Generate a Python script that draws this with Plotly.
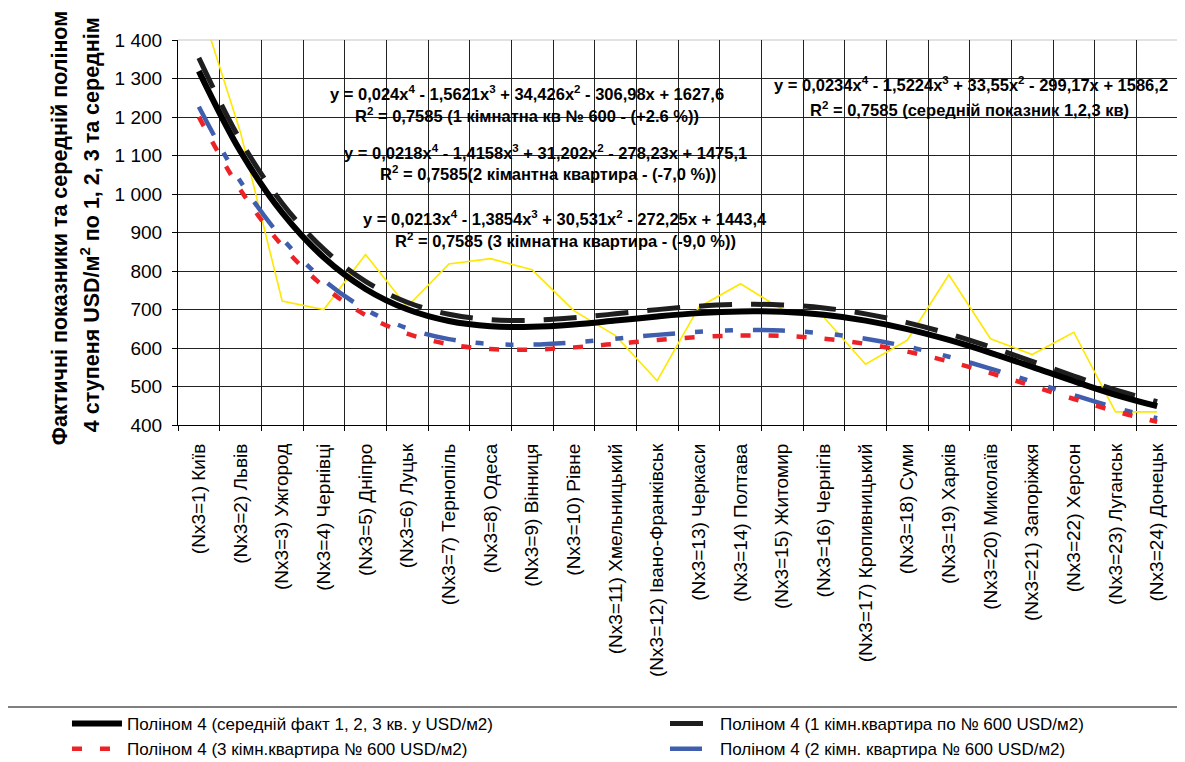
import plotly.graph_objects as go

categories = [
    "(Nx3=1) Київ", "(Nx3=2) Львів", "(Nx3=3) Ужгород", "(Nx3=4) Чернівці",
    "(Nx3=5) Дніпро", "(Nx3=6) Луцьк", "(Nx3=7) Тернопіль", "(Nx3=8) Одеса",
    "(Nx3=9) Вінниця", "(Nx3=10) Рівне", "(Nx3=11) Хмельницький",
    "(Nx3=12) Івано-Франківськ", "(Nx3=13) Черкаси", "(Nx3=14) Полтава",
    "(Nx3=15) Житомир", "(Nx3=16) Чернігів", "(Nx3=17) Кропивницький",
    "(Nx3=18) Суми", "(Nx3=19) Харків", "(Nx3=20) Миколаїв",
    "(Nx3=21) Запоріжжя", "(Nx3=22) Херсон", "(Nx3=23) Луганськ",
    "(Nx3=24) Донецьк",
]

actual_avg = [1500, 1160, 722, 700, 843, 707, 818, 832, 803, 697, 632, 515,
              706, 767, 700, 680, 558, 620, 790, 624, 583, 641, 434, 434]

# trend-line values at each category
trend_avg = [1319.1, 1110.3, 951.4, 834.9, 753.4, 700.5, 670.0, 656.4, 654.9,
             661.1, 671.2, 681.9, 690.6, 695.1, 693.9, 686.1, 671.1, 649.1,
             620.9, 587.6, 551.1, 513.7, 478.5, 448.8]
trend_1room = [1353.5, 1139.3, 976.2, 856.7, 773.1, 718.8, 687.5, 673.5, 672.0,
               678.4, 688.7, 699.7, 708.6, 713.2, 712.0, 704.0, 688.6, 666.0,
               637.1, 602.9, 565.5, 527.1, 491.0, 460.5]
trend_2room = [1226.7, 1032.5, 884.8, 776.4, 700.6, 651.4, 623.1, 610.4, 609.0,
               614.8, 624.2, 634.1, 642.2, 646.4, 645.3, 638.0, 624.1, 603.6,
               577.4, 546.4, 512.5, 477.7, 445.0, 417.4]
trend_3room = [1200.4, 1010.4, 865.8, 759.7, 685.6, 637.4, 609.7, 597.3, 595.9,
               601.6, 610.8, 620.5, 628.4, 632.5, 631.4, 624.3, 610.7, 590.7,
               565.0, 534.7, 501.5, 467.5, 435.4, 408.4]

name_avg = "Поліном 4 (середній факт 1, 2, 3 кв. у USD/м2)"
name_1 = "Поліном 4 (1 кімн.квартира по № 600 USD/м2)"
name_2 = "Поліном 4 (2 кімн. квартира № 600 USD/м2)"
name_3 = "Поліном 4 (3 кімн.квартира № 600 USD/м2)"

FONT = "Liberation Sans, Arial, sans-serif"

fig = go.Figure()
fig.add_trace(go.Scatter(x=categories, y=actual_avg, mode="lines",
                         line=dict(color="#FFE800", width=1.6),
                         showlegend=False, hoverinfo="skip"))
fig.add_trace(go.Scatter(x=categories, y=trend_2room, mode="lines", name=name_2,
                         line=dict(color="#3F5FAE", width=4.5, shape="spline",
                                   dash="32px,20px,8px,22px,8px,20px"),
                         legend="legend2", legendrank=2))
fig.add_trace(go.Scatter(x=categories, y=trend_3room, mode="lines", name=name_3,
                         line=dict(color="#EC2227", width=4.5, shape="spline",
                                   dash="10px,18px"),
                         legend="legend", legendrank=2))
fig.add_trace(go.Scatter(x=categories, y=trend_1room, mode="lines", name=name_1,
                         line=dict(color="#1e1e1e", width=5, shape="spline",
                                   dash="33px,19px"),
                         legend="legend2", legendrank=1))
fig.add_trace(go.Scatter(x=categories, y=trend_avg, mode="lines", name=name_avg,
                         line=dict(color="black", width=6, shape="spline"),
                         legend="legend", legendrank=1))

eq_font = dict(family=FONT, size=16.5, color="black")
annots = [
    (7.875, 1262, "<b>y = 0,024x<sup>4</sup> - 1,5621x<sup>3</sup> + 34,426x<sup>2</sup> - 306,98x + 1627,6</b>"),
    (7.875, 1205, "<b>R<sup>2</sup> = 0,7585 (1 кімнатна кв № 600 - (+2.6 %))</b>"),
    (8.33, 1109, "<b>y = 0,0218x<sup>4</sup> - 1,4158x<sup>3</sup> + 31,202x<sup>2</sup> - 278,23x + 1475,1</b>"),
    (8.38, 1055, "<b>R<sup>2</sup> = 0,7585(2 кімантна квартира - (-7,0 %))</b>"),
    (8.79, 938, "<b>y = 0,0213x<sup>4</sup> - 1,3854x<sup>3</sup> + 30,531x<sup>2</sup> - 272,25x + 1443,4</b>"),
    (8.79, 880, "<b>R<sup>2</sup> = 0,7585 (3 кімнатна квартира - (-9,0 %))</b>"),
    (18.53, 1285, "<b>y = 0,0234x<sup>4</sup> - 1,5224x<sup>3</sup> + 33,55x<sup>2</sup> - 299,17x + 1586,2</b>"),
    (18.5, 1220, "<b>R<sup>2</sup> = 0,7585 (середній показник 1,2,3 кв)</b>"),
]
for x, y, t in annots:
    fig.add_annotation(x=x, y=y, xref="x", yref="y", text=t, showarrow=False,
                       font=eq_font, xanchor="center", yanchor="middle")

title_font = dict(family=FONT, size=21.5, color="black")
fig.add_annotation(x=-0.118, y=0.511, xref="paper", yref="paper",
                   text="<b>Фактичні показники та середній поліном</b>",
                   textangle=-90, showarrow=False, font=title_font,
                   xanchor="center", yanchor="middle")
fig.add_annotation(x=-0.088, y=0.519, xref="paper", yref="paper",
                   text="<b>4 ступеня USD/м<sup>2</sup> по 1, 2, 3 та середнім</b>",
                   textangle=-90, showarrow=False, font=title_font,
                   xanchor="center", yanchor="middle")

# light top border of plot area
fig.add_shape(type="line", xref="paper", yref="paper", x0=0, x1=1, y0=1, y1=1,
              line=dict(color="#d9d9d9", width=1.5), layer="between")
# legend frame
fig.add_shape(type="rect", xref="paper", yref="paper", x0=-0.18, x1=1.03,
              y0=-0.7325, y1=-0.95, line=dict(color="black", width=1))

# the page body adds an 8px offset; figure is sized so the plot area lands
# at the same place as in the reference
fig.update_layout(
    width=1177, height=754,
    margin=dict(l=170, r=7, t=32, b=337, autoexpand=False),
    paper_bgcolor="white", plot_bgcolor="white",
    font=dict(family=FONT, size=17, color="black"),
    separators=", ",
    legend=dict(xref="container", yref="container", x=0.0501, y=0.0743,
                xanchor="left", yanchor="top", orientation="v",
                itemwidth=50,
                font=dict(family=FONT, size=17), bgcolor="rgba(0,0,0,0)",
                borderwidth=0),
    legend2=dict(xref="container", yref="container", x=0.5582, y=0.0743,
                 xanchor="left", yanchor="top", orientation="v",
                 itemwidth=45,
                 font=dict(family=FONT, size=17), bgcolor="rgba(0,0,0,0)",
                 borderwidth=0),
    xaxis=dict(type="category", range=[-0.5, 23.5], tickson="boundaries",
               ticks="outside", ticklen=5, tickcolor="black",
               showgrid=True, gridcolor="#222", gridwidth=1.2,
               showline=True, linecolor="black", linewidth=1.2,
               tickangle=-90, tickfont=dict(family=FONT, size=19),
               ticklabelstandoff=10),
    yaxis=dict(range=[400, 1400], dtick=100, tick0=400, ticks="outside",
               ticklen=5, tickcolor="black", showgrid=True, gridcolor="#222",
               gridwidth=1.2, showline=True, linecolor="black", linewidth=1.2,
               separatethousands=True, tickfont=dict(family=FONT, size=19),
               zeroline=False, ticklabelstandoff=6),
)

fig.write_html("out.html")
